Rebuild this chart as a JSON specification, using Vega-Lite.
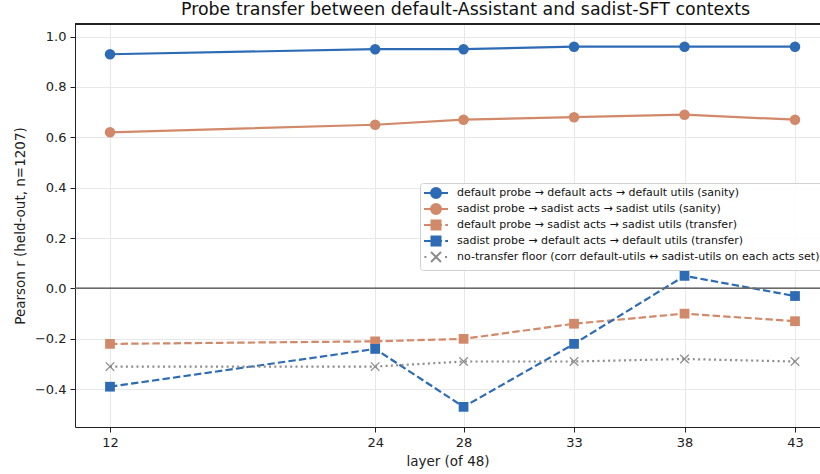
{
  "$schema": "https://vega.github.io/schema/vega-lite/v6.json",
  "width": 745,
  "height": 403,
  "autosize": {"type": "none"},
  "padding": {"left": 75, "top": 24, "right": 0, "bottom": 47},
  "background": "white",
  "title": {
    "text": "Probe transfer between default-Assistant and sadist-SFT contexts",
    "font": "DejaVu Sans",
    "fontSize": 17.4,
    "fontWeight": "normal",
    "color": "#111111",
    "offset": 5,
    "dx": 18
  },
  "config": {
    "font": "DejaVu Sans",
    "view": {"stroke": null},
    "axis": {
      "labelFont": "DejaVu Sans",
      "labelFontSize": 13,
      "labelColor": "#222222",
      "titleFont": "DejaVu Sans",
      "titleFontSize": 13.5,
      "titleFontWeight": "normal",
      "titleColor": "#222222",
      "domainColor": "#222222",
      "domainWidth": 1,
      "tickColor": "#222222",
      "tickSize": 5,
      "labelPadding": 4,
      "gridColor": "#e8e8e8",
      "gridWidth": 1
    }
  },
  "data": {
    "values": [
      {"layer": 12, "r": 0.93, "series": "default probe → default acts → default utils (sanity)"},
      {"layer": 24, "r": 0.95, "series": "default probe → default acts → default utils (sanity)"},
      {"layer": 28, "r": 0.95, "series": "default probe → default acts → default utils (sanity)"},
      {"layer": 33, "r": 0.96, "series": "default probe → default acts → default utils (sanity)"},
      {"layer": 38, "r": 0.96, "series": "default probe → default acts → default utils (sanity)"},
      {"layer": 43, "r": 0.96, "series": "default probe → default acts → default utils (sanity)"},
      {"layer": 12, "r": 0.62, "series": "sadist probe → sadist acts → sadist utils (sanity)"},
      {"layer": 24, "r": 0.65, "series": "sadist probe → sadist acts → sadist utils (sanity)"},
      {"layer": 28, "r": 0.67, "series": "sadist probe → sadist acts → sadist utils (sanity)"},
      {"layer": 33, "r": 0.68, "series": "sadist probe → sadist acts → sadist utils (sanity)"},
      {"layer": 38, "r": 0.69, "series": "sadist probe → sadist acts → sadist utils (sanity)"},
      {"layer": 43, "r": 0.67, "series": "sadist probe → sadist acts → sadist utils (sanity)"},
      {"layer": 12, "r": -0.22, "series": "default probe → sadist acts → sadist utils (transfer)"},
      {"layer": 24, "r": -0.21, "series": "default probe → sadist acts → sadist utils (transfer)"},
      {"layer": 28, "r": -0.20, "series": "default probe → sadist acts → sadist utils (transfer)"},
      {"layer": 33, "r": -0.14, "series": "default probe → sadist acts → sadist utils (transfer)"},
      {"layer": 38, "r": -0.10, "series": "default probe → sadist acts → sadist utils (transfer)"},
      {"layer": 43, "r": -0.13, "series": "default probe → sadist acts → sadist utils (transfer)"},
      {"layer": 12, "r": -0.39, "series": "sadist probe → default acts → default utils (transfer)"},
      {"layer": 24, "r": -0.24, "series": "sadist probe → default acts → default utils (transfer)"},
      {"layer": 28, "r": -0.47, "series": "sadist probe → default acts → default utils (transfer)"},
      {"layer": 33, "r": -0.22, "series": "sadist probe → default acts → default utils (transfer)"},
      {"layer": 38, "r": 0.05, "series": "sadist probe → default acts → default utils (transfer)"},
      {"layer": 43, "r": -0.03, "series": "sadist probe → default acts → default utils (transfer)"},
      {"layer": 12, "r": -0.31, "series": "no-transfer floor (corr default-utils ↔ sadist-utils on each acts set)"},
      {"layer": 24, "r": -0.31, "series": "no-transfer floor (corr default-utils ↔ sadist-utils on each acts set)"},
      {"layer": 28, "r": -0.29, "series": "no-transfer floor (corr default-utils ↔ sadist-utils on each acts set)"},
      {"layer": 33, "r": -0.29, "series": "no-transfer floor (corr default-utils ↔ sadist-utils on each acts set)"},
      {"layer": 38, "r": -0.28, "series": "no-transfer floor (corr default-utils ↔ sadist-utils on each acts set)"},
      {"layer": 43, "r": -0.29, "series": "no-transfer floor (corr default-utils ↔ sadist-utils on each acts set)"}
    ]
  },
  "layer": [
    {
      "transform": [{"filter": "indexof(datum.series, 'sanity') >= 0"}],
      "mark": {"type": "line", "strokeWidth": 2.2},
      "encoding": {
        "x": {
          "field": "layer",
          "type": "quantitative",
          "scale": {"domain": [10.416, 44.131], "nice": false, "zero": false},
          "axis": {"values": [12, 24, 28, 33, 38, 43], "format": "d", "title": "layer (of 48)", "titlePadding": 5}
        },
        "y": {
          "field": "r",
          "type": "quantitative",
          "scale": {"domain": [-0.55, 1.05], "nice": false, "zero": false},
          "axis": {"values": [-0.4, -0.2, 0, 0.2, 0.4, 0.6, 0.8, 1.0], "format": ".1f", "title": "Pearson r (held-out, n=1207)", "titlePadding": 7}
        },
        "color": {
          "field": "series",
          "type": "nominal",
          "scale": {
            "domain": [
              "default probe → default acts → default utils (sanity)",
              "sadist probe → sadist acts → sadist utils (sanity)",
              "default probe → sadist acts → sadist utils (transfer)",
              "sadist probe → default acts → default utils (transfer)",
              "no-transfer floor (corr default-utils ↔ sadist-utils on each acts set)"
            ],
            "range": ["#2e6bb5", "#d2896a", "#d2896a", "#2e6bb5", "#8c8c8c"]
          }
        }
      }
    },
    {
      "transform": [{"filter": "indexof(datum.series, 'transfer)') >= 0"}],
      "mark": {"type": "line", "strokeWidth": 2.2, "strokeDash": [7.4, 3.2]},
      "encoding": {
        "x": {"field": "layer", "type": "quantitative"},
        "y": {"field": "r", "type": "quantitative"},
        "color": {"field": "series", "type": "nominal"}
      }
    },
    {
      "transform": [{"filter": "indexof(datum.series, 'floor') >= 0"}],
      "mark": {"type": "line", "strokeWidth": 2.2, "strokeDash": [2, 3.3]},
      "encoding": {
        "x": {"field": "layer", "type": "quantitative"},
        "y": {"field": "r", "type": "quantitative"},
        "color": {"field": "series", "type": "nominal"}
      }
    },
    {
      "mark": {"type": "rule", "color": "#6a6a6a", "strokeWidth": 1},
      "encoding": {"y": {"datum": 0, "type": "quantitative"}}
    },
    {
      "mark": {"type": "rule", "color": "#222222", "strokeWidth": 1},
      "encoding": {"y": {"datum": 1.05, "type": "quantitative"}}
    },
    {
      "transform": [{"filter": "indexof(datum.series, 'sanity') >= 0"}],
      "mark": {"type": "point", "shape": "circle", "filled": true, "opacity": 1, "size": 110},
      "encoding": {
        "x": {"field": "layer", "type": "quantitative"},
        "y": {"field": "r", "type": "quantitative"},
        "color": {"field": "series", "type": "nominal"}
      }
    },
    {
      "transform": [{"filter": "indexof(datum.series, 'transfer)') >= 0"}],
      "mark": {"type": "point", "shape": "square", "filled": true, "opacity": 1, "size": 95},
      "encoding": {
        "x": {"field": "layer", "type": "quantitative"},
        "y": {"field": "r", "type": "quantitative"},
        "color": {"field": "series", "type": "nominal"}
      }
    },
    {
      "transform": [{"filter": "indexof(datum.series, 'floor') >= 0"}],
      "mark": {"type": "point", "shape": "M-1,-1L1,1M-1,1L1,-1", "filled": false, "color": "#8c8c8c", "opacity": 1, "size": 72, "strokeWidth": 1.2},
      "encoding": {
        "x": {"field": "layer", "type": "quantitative"},
        "y": {"field": "r", "type": "quantitative"}
      }
    },
    {
      "transform": [{"filter": "datum.layer < 0"}],
      "mark": {"type": "point", "filled": true, "opacity": 1},
      "encoding": {
        "x": {"field": "layer", "type": "quantitative"},
        "y": {"field": "r", "type": "quantitative"},
        "color": {
          "field": "series",
          "type": "nominal",
          "legend": {
            "orient": "none",
            "legendX": 345,
            "legendY": 159,
            "title": null,
            "labelFont": "DejaVu Sans",
            "labelFontSize": 11,
            "labelColor": "#111111",
            "labelLimit": 600,
            "labelOffset": 21,
            "symbolSize": 100,
            "symbolStrokeWidth": 2,
            "rowPadding": -2,
            "padding": 4,
            "strokeColor": "#d0d0d0",
            "fillColor": "rgba(255,255,255,0.85)",
            "cornerRadius": 3
          }
        },
        "stroke": {
          "field": "series",
          "type": "nominal",
          "scale": {
            "domain": [
              "default probe → default acts → default utils (sanity)",
              "sadist probe → sadist acts → sadist utils (sanity)",
              "default probe → sadist acts → sadist utils (transfer)",
              "sadist probe → default acts → default utils (transfer)",
              "no-transfer floor (corr default-utils ↔ sadist-utils on each acts set)"
            ],
            "range": ["#2e6bb5", "#d2896a", "#d2896a", "#2e6bb5", "#8c8c8c"]
          }
        },
        "shape": {
          "field": "series",
          "type": "nominal",
          "scale": {
            "domain": [
              "default probe → default acts → default utils (sanity)",
              "sadist probe → sadist acts → sadist utils (sanity)",
              "default probe → sadist acts → sadist utils (transfer)",
              "sadist probe → default acts → default utils (transfer)",
              "no-transfer floor (corr default-utils ↔ sadist-utils on each acts set)"
            ],
            "range": [
              "M-1.2,0H3.6M2.2,0A1,1 0 1,1 0.2,0A1,1 0 1,1 2.2,0Z",
              "M-1.2,0H3.6M2.2,0A1,1 0 1,1 0.2,0A1,1 0 1,1 2.2,0Z",
              "M-1.2,0H0.28M2.1,0H2.4M3.04,0H3.6M0.3,-0.9H2.1V0.9H0.3Z",
              "M-1.2,0H0.28M2.1,0H2.4M3.04,0H3.6M0.3,-0.9H2.1V0.9H0.3Z",
              "M-1.12,0H-0.72M3.0,0H3.4M0.2,-1L2.2,1M0.2,1L2.2,-1"
            ]
          }
        }
      }
    }
  ]
}
